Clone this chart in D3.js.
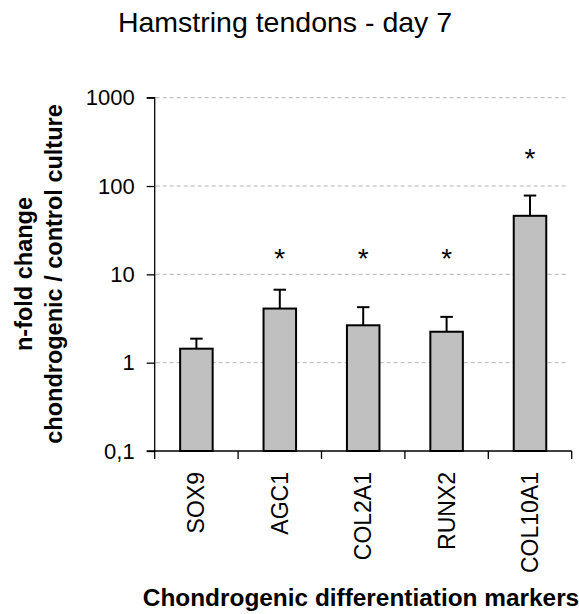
<!DOCTYPE html>
<html>
<head>
<meta charset="utf-8">
<script src="https://cdn.jsdelivr.net/npm/d3@7"></script>
<style>
  html, body { margin: 0; padding: 0; background: #fff; }
  svg { display: block; }
  text { font-family: "Liberation Sans", Arial, Helvetica, sans-serif; fill: #000; }
</style>
</head>
<body>
<script>
// Gene expression, chondrogenic vs control culture (fold change, log scale)
const markers = ["SOX9", "AGC1", "COL2A1", "RUNX2", "COL10A1"];
const foldChange = [1.44, 4.1, 2.65, 2.24, 46];
const errorUpper = [1.87, 6.7, 4.25, 3.3, 78];
const significant = [false, true, true, true, true];
const starLevel = [null, 18, 18, 18, 240];
const yTickValues = [0.1, 1, 10, 100, 1000];
const yTickLabels = ["0,1", "1", "10", "100", "1000"];

const W = 579, H = 614;
const plot = { left: 154.7, right: 571.7, top: 97.7, bottom: 451 };

const svg = d3.select("body").append("svg")
  .attr("width", W).attr("height", H);

const x = d3.scaleBand().domain(markers).range([plot.left, plot.right]).padding(0);
const y = d3.scaleLog().domain([0.1, 1000]).range([plot.bottom, plot.top]);

const barW = x.bandwidth() * 0.39;
const capW = 12.5;

// dashed gridlines
svg.append("g")
  .selectAll("line")
  .data(yTickValues.filter(v => v > 0.1))
  .join("line")
  .attr("x1", plot.left + 1).attr("x2", plot.right - 3)
  .attr("y1", d => y(d)).attr("y2", d => y(d))
  .attr("stroke", "#b4b4b4").attr("stroke-width", 1)
  .attr("stroke-dasharray", "4,3");

// error bars (upper only)
const err = svg.append("g");
markers.forEach((m, i) => {
  const cx = x(m) + x.bandwidth() / 2;
  err.append("line")
    .attr("x1", cx).attr("x2", cx)
    .attr("y1", y(foldChange[i])).attr("y2", y(errorUpper[i]))
    .attr("stroke", "#000").attr("stroke-width", 2);
  err.append("line")
    .attr("x1", cx - capW / 2).attr("x2", cx + capW / 2)
    .attr("y1", y(errorUpper[i])).attr("y2", y(errorUpper[i]))
    .attr("stroke", "#000").attr("stroke-width", 2);
});

// bars
svg.append("g")
  .selectAll("rect")
  .data(markers)
  .join("rect")
  .attr("x", d => x(d) + (x.bandwidth() - barW) / 2)
  .attr("width", barW)
  .attr("y", (d, i) => y(foldChange[i]))
  .attr("height", (d, i) => y(0.1) - y(foldChange[i]))
  .attr("fill", "#c0c0c0")
  .attr("stroke", "#000").attr("stroke-width", 2);

// significance markers
svg.append("g")
  .selectAll("text")
  .data(markers.filter((m, i) => significant[i]))
  .join("text")
  .attr("x", d => x(d) + x.bandwidth() / 2)
  .attr("y", d => y(starLevel[markers.indexOf(d)]) + 16)
  .attr("text-anchor", "middle")
  .attr("font-size", 28)
  .text("*");

// y axis
const yAxis = d3.axisLeft(y)
  .tickValues(yTickValues)
  .tickFormat((d, i) => yTickLabels[i])
  .tickSize(8).tickPadding(12);
const gy = svg.append("g")
  .attr("transform", `translate(${plot.left},0)`)
  .call(yAxis);
gy.select(".domain").attr("stroke", "#000").attr("stroke-width", 1.3)
  .attr("d", `M-8,${plot.top}H0V${plot.bottom}H-8`);
gy.selectAll(".tick line").attr("stroke", "#000").attr("stroke-width", 1.3);
gy.selectAll(".tick text")
  .attr("font-size", 22)
  .attr("font-family", "'Liberation Sans', Arial, sans-serif")
  .attr("fill", "#000");

// x axis with ticks at category boundaries
const gx = svg.append("g")
  .attr("transform", `translate(0,${plot.bottom})`);
gx.append("line")
  .attr("x1", plot.left).attr("x2", plot.right)
  .attr("stroke", "#000").attr("stroke-width", 1.3);
const bounds = markers.map(m => x(m)).concat([x(markers[markers.length - 1]) + x.bandwidth()]);
gx.selectAll("line.tk")
  .data(bounds)
  .join("line").attr("class", "tk")
  .attr("x1", d => d).attr("x2", d => d)
  .attr("y1", 0).attr("y2", 8)
  .attr("stroke", "#000").attr("stroke-width", 1.3);

// category labels, rotated
gx.selectAll("text.cat")
  .data(markers)
  .join("text").attr("class", "cat")
  .attr("transform", d => `translate(${x(d) + x.bandwidth() / 2},21) rotate(-90)`)
  .attr("text-anchor", "end")
  .attr("dy", "0.35em")
  .attr("font-size", 23)
  .text(d => d);

// titles
svg.append("text")
  .attr("x", 285).attr("y", 32)
  .attr("text-anchor", "middle")
  .attr("font-size", 28.5)
  .text("Hamstring tendons - day 7");

svg.append("text")
  .attr("x", 361).attr("y", 606)
  .attr("text-anchor", "middle")
  .attr("font-size", 24.4).attr("font-weight", "bold")
  .text("Chondrogenic differentiation markers");

const yTitle = svg.append("text")
  .attr("transform", "translate(0,274) rotate(-90)")
  .attr("text-anchor", "middle")
  .attr("font-size", 23.5).attr("font-weight", "bold");
yTitle.append("tspan").attr("x", 0).attr("y", 32).text("n-fold change");
yTitle.append("tspan").attr("x", 0).attr("y", 62).text("chondrogenic / control culture");
</script>
</body>
</html>
